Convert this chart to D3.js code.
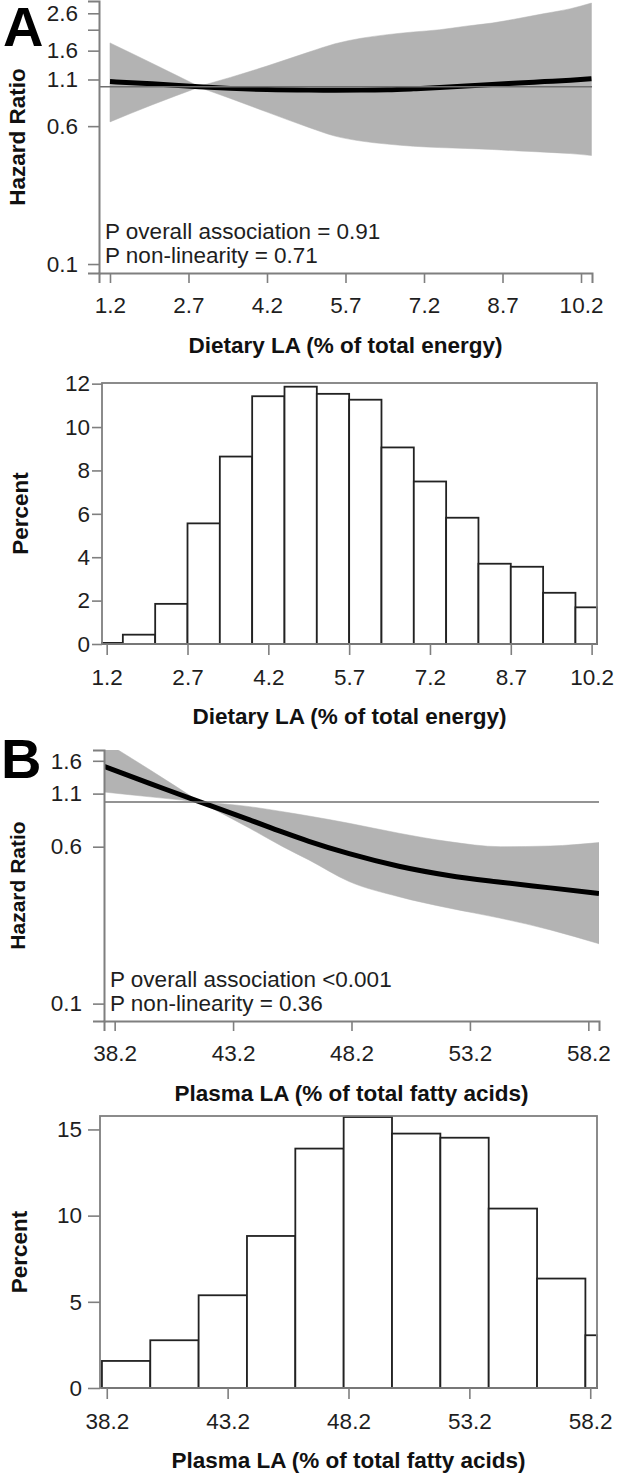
<!DOCTYPE html>
<html>
<head>
<meta charset="utf-8">
<script src="https://cdn.jsdelivr.net/npm/d3@7/dist/d3.min.js"></script>
<style>
  html, body { margin: 0; padding: 0; background: #fff; }
  svg { display: block; font-family: "Liberation Sans", Arial, Helvetica, sans-serif; }
</style>
</head>
<body>
<svg id="chart" width="617" height="1475"></svg>
<script>
// ---------------- DATA ----------------
// Panel A: dietary LA spline
const dietX     = [1.2, 2.0, 2.9, 3.5, 4.2, 5.0, 5.5, 6.0, 6.5, 7.0, 7.5, 8.0, 8.5, 9.0, 9.5, 10.0, 10.4];
const dietHR    = [1.07, 1.04, 1.0, 0.98, 0.965, 0.958, 0.957, 0.958, 0.963, 0.975, 0.99, 1.01, 1.03, 1.05, 1.07, 1.09, 1.11];
const dietLower = [0.634, 0.79, 0.995, 0.86, 0.72, 0.59, 0.527, 0.494, 0.475, 0.462, 0.454, 0.449, 0.443, 0.435, 0.428, 0.42, 0.41];
const dietUpper = [1.77, 1.36, 1.005, 1.13, 1.31, 1.57, 1.75, 1.88, 1.97, 2.04, 2.10, 2.20, 2.29, 2.43, 2.59, 2.76, 2.97];
const dietRefValue = 2.9;

// Panel A: dietary LA histogram
const dietBinEdges = [0.9, 1.5, 2.1, 2.7, 3.3, 3.9, 4.5, 5.1, 5.7, 6.3, 6.9, 7.5, 8.1, 8.7, 9.3, 9.9, 10.5];
const dietPct      = [0.05, 0.43, 1.85, 5.56, 8.64, 11.42, 11.86, 11.53, 11.26, 9.06, 7.49, 5.82, 3.70, 3.56, 2.36, 1.69];

// Panel B: plasma LA spline
const plasmaX     = [37.75, 39.7, 41.8, 43.9, 45.3, 46.4, 48.1, 50.2, 52.3, 54.5, 56.6, 58.65];
const plasmaHR    = [1.50, 1.234, 1.0, 0.815, 0.708, 0.638, 0.554, 0.480, 0.432, 0.40, 0.375, 0.352];
const plasmaLower = [1.12, 1.06, 1.0, 0.741, 0.60, 0.516, 0.403, 0.339, 0.298, 0.265, 0.232, 0.198];
const plasmaUpper = [2.0, 1.44, 1.0, 0.948, 0.895, 0.852, 0.784, 0.70, 0.636, 0.60, 0.605, 0.629];
const plasmaRefValue = 41.8;

// Panel B: plasma LA histogram
const plasmaBinEdges = [38, 40, 42, 44, 46, 48, 50, 52, 54, 56, 58, 60];
const plasmaPct      = [1.57, 2.77, 5.38, 8.82, 13.89, 15.72, 14.76, 14.52, 10.41, 6.35, 3.06];

// Ticks / labels
const dietTicks   = [1.2, 2.7, 4.2, 5.7, 7.2, 8.7, 10.2];
const plasmaTicks = [38.2, 43.2, 48.2, 53.2, 58.2];
const hrTicksA    = [0.1, 0.6, 1.1, 1.6, 2.1, 2.6];
const hrLabelsA   = ["0.1", "0.6", "1.1", "1.6", "", "2.6"];
const hrTicksB    = [0.1, 0.6, 1.1, 1.6];
const hrLabelsB   = ["0.1", "0.6", "1.1", "1.6"];
const pctTicksA   = [0, 2, 4, 6, 8, 10, 12];
const pctTicksB   = [0, 5, 10, 15];

const dietTitle   = "Dietary LA (% of total energy)";
const plasmaTitle = "Plasma LA (% of total fatty acids)";
const annotA = ["P overall association = 0.91", "P non-linearity = 0.71"];
const annotB = ["P overall association <0.001", "P non-linearity = 0.36"];

// ---------------- DRAW ----------------
const svg = d3.select("#chart");
const AX = "#7f7f7f", TXT = "#1e1e1e";

function styleAxis(g) {
  g.select(".domain").attr("stroke", AX).attr("stroke-width", 2);
  g.selectAll(".tick line").attr("stroke", AX).attr("stroke-width", 1.6);
  g.selectAll(".tick text").attr("fill", TXT).attr("font-size", 22.5)
    .attr("font-family", "Liberation Sans, Arial, sans-serif");
}

function hrPanel(o) {
  const x = d3.scaleLinear().domain(o.xDomain).range(o.xRange);
  const y = d3.scaleLog().domain(o.yDomain).range(o.yRange);
  const id = "clip" + o.key;
  svg.append("clipPath").attr("id", id).append("rect")
    .attr("x", o.xRange[0]).attr("y", o.yRange[1])
    .attr("width", o.xRange[1] - o.xRange[0]).attr("height", o.yRange[0] - o.yRange[1]);

  const pts = o.xs.map((v, i) => ({x: v, hr: o.hr[i], lo: o.lo[i], hi: o.hi[i]}));
  const vi = o.xs.indexOf(o.refX);
  const area = d3.area().x(d => x(d.x)).y0(d => y(d.lo)).y1(d => y(d.hi)).curve(d3.curveMonotoneX);
  const g = svg.append("g").attr("clip-path", `url(#${id})`);
  [pts.slice(0, vi + 1), pts.slice(vi)].forEach(seg => {
    g.append("path").attr("d", area(seg)).attr("fill", "#b3b3b3").attr("stroke", "#b3b3b3").attr("stroke-width", 0.5);
  });
  // reference line at HR = 1
  svg.append("line").attr("x1", o.xRange[0]).attr("x2", o.xRange[1])
    .attr("y1", y(1)).attr("y2", y(1)).attr("stroke", "#6f6f6f").attr("stroke-width", 1.5);
  // spline
  g.append("path").attr("d", d3.line().x(d => x(d.x)).y(d => y(d.hr)).curve(d3.curveMonotoneX)(pts))
    .attr("fill", "none").attr("stroke", "#000").attr("stroke-width", 5);

  // axes
  const ya = svg.append("g").attr("transform", `translate(${o.xRange[0]},0)`)
    .call(d3.axisLeft(y).tickValues(o.yTicks).tickFormat((d, i) => o.yLabels[i])
      .tickSizeOuter(0).tickSize(11).tickPadding(o.yPad));
  styleAxis(ya);
  const xa = svg.append("g").attr("transform", `translate(0,${o.yRange[0]})`)
    .call(d3.axisBottom(x).tickValues(o.xTicks).tickFormat(d3.format(".1f"))
      .tickSizeOuter(0).tickSize(10).tickPadding(14));
  styleAxis(xa);

  // annotation
  o.annot.forEach((t, i) => {
    svg.append("text").attr("x", o.annX).attr("y", o.annY[i]).text(t)
      .attr("font-size", 22.5).attr("fill", TXT);
  });
  // titles
  svg.append("text").attr("x", (o.xRange[0] + o.xRange[1]) / 2).attr("y", o.yRange[0] + 80)
    .attr("text-anchor", "middle").attr("font-weight", "bold").attr("font-size", 22.5)
    .attr("fill", "#111").text(o.xTitle);
  svg.append("text").attr("transform", `translate(${o.yTitleX},${(o.yRange[0] + o.yRange[1]) / 2}) rotate(-90)`)
    .attr("text-anchor", "middle").attr("font-weight", "bold").attr("font-size", o.yTitleSize)
    .attr("fill", "#111").text("Hazard Ratio");
  svg.append("text").attr("x", o.letterX).attr("y", o.letterY).text(o.letter)
    .attr("font-weight", "bold").attr("font-size", 56).attr("fill", "#000");
}

function histPanel(o) {
  const x = d3.scaleLinear().domain(o.xDomain).range(o.xRange).clamp(true);
  const y = d3.scaleLinear().domain(o.yDomain).range(o.yRange);
  const bins = o.pct.map((p, i) => ({x0: o.edges[i], x1: o.edges[i + 1], p}));
  svg.append("g").selectAll("rect").data(bins).join("rect")
    .attr("x", d => x(d.x0)).attr("width", d => x(d.x1) - x(d.x0))
    .attr("y", d => y(d.p)).attr("height", d => y(0) - y(d.p))
    .attr("fill", "#fff").attr("stroke", "#222").attr("stroke-width", 1.8);
  // frame
  svg.append("rect").attr("x", o.xRange[0]).attr("y", o.yRange[1])
    .attr("width", o.xRange[1] - o.xRange[0]).attr("height", o.yRange[0] - o.yRange[1])
    .attr("fill", "none").attr("stroke", AX).attr("stroke-width", 1.8);
  const ya = svg.append("g").attr("transform", `translate(${o.xRange[0]},0)`)
    .call(d3.axisLeft(y).tickValues(o.yTicks).tickFormat(d3.format("d"))
      .tickSizeOuter(0).tickSize(o.yTick).tickPadding(o.yPad));
  styleAxis(ya);
  ya.select(".domain").remove();
  const xa = svg.append("g").attr("transform", `translate(0,${o.yRange[0]})`)
    .call(d3.axisBottom(x).tickValues(o.xTicks).tickFormat(d3.format(".1f"))
      .tickSizeOuter(0).tickSize(11).tickPadding(14));
  styleAxis(xa);
  xa.select(".domain").remove();
  svg.append("text").attr("x", (o.xRange[0] + o.xRange[1]) / 2).attr("y", o.yRange[0] + 80)
    .attr("text-anchor", "middle").attr("font-weight", "bold").attr("font-size", 22.5)
    .attr("fill", "#111").text(o.xTitle);
  svg.append("text").attr("transform", `translate(${o.yTitleX},${(o.yRange[0] + o.yRange[1]) / 2}) rotate(-90)`)
    .attr("text-anchor", "middle").attr("font-weight", "bold").attr("font-size", 22.5)
    .attr("fill", "#111").text("Percent");
}

hrPanel({
  key: "A", xs: dietX, hr: dietHR, lo: dietLower, hi: dietUpper, refX: dietRefValue,
  xDomain: [0.99, 10.41], xRange: [99, 592],
  yDomain: [0.089, 3.05], yRange: [273, 1],
  yTicks: hrTicksA, yLabels: hrLabelsA, yPad: 10, xTicks: dietTicks,
  annot: annotA, annX: 105, annY: [239, 263],
  xTitle: dietTitle, yTitleX: 25, yTitleSize: 22.5,
  letter: "A", letterX: 3, letterY: 46
});

histPanel({
  edges: dietBinEdges, pct: dietPct,
  xDomain: [1.113, 10.30], xRange: [102, 597],
  yDomain: [0, 12.03], yRange: [644, 383],
  yTicks: pctTicksA, yTick: 10, yPad: 2, xTicks: dietTicks,
  xTitle: dietTitle, yTitleX: 28
});

hrPanel({
  key: "B", xs: plasmaX, hr: plasmaHR, lo: plasmaLower, hi: plasmaUpper, refX: plasmaRefValue,
  xDomain: [37.75, 58.65], xRange: [104, 599],
  yDomain: [0.082, 1.81], yRange: [1021, 750],
  yTicks: hrTicksB, yLabels: hrLabelsB, yPad: 11, xTicks: plasmaTicks,
  annot: annotB, annX: 110, annY: [987, 1011],
  xTitle: plasmaTitle, yTitleX: 25, yTitleSize: 21,
  letter: "B", letterX: 1, letterY: 778
});

histPanel({
  edges: plasmaBinEdges, pct: plasmaPct,
  xDomain: [37.92, 58.48], xRange: [100, 597],
  yDomain: [0, 15.78], yRange: [1388, 1116],
  yTicks: pctTicksB, yTick: 12, yPad: 6, xTicks: plasmaTicks,
  xTitle: plasmaTitle, yTitleX: 27
});
</script>
</body>
</html>
